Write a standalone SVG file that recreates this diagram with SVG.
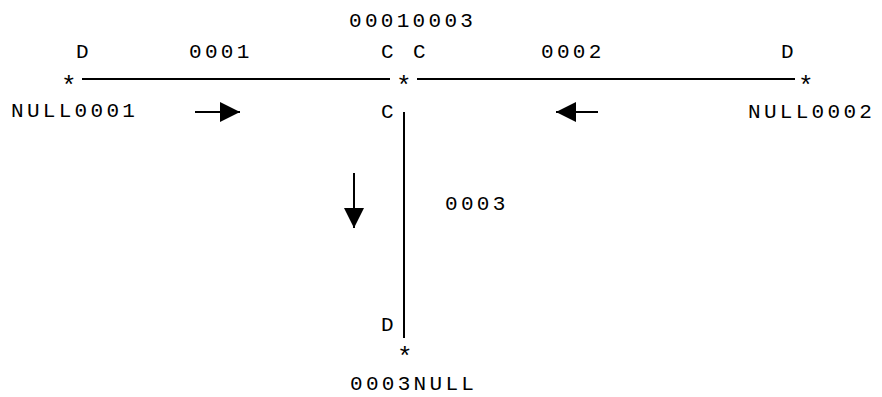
<svg xmlns="http://www.w3.org/2000/svg" width="882" height="397" viewBox="0 0 882 397">
<defs>
<style>
text{font-family:"Liberation Mono","DejaVu Sans Mono",monospace;font-size:21px;fill:#000;letter-spacing:3.3px}
text.st{font-size:26px;letter-spacing:0}
.ln{stroke:#000;stroke-width:2;fill:none}
.ar{stroke:#000;stroke-width:2;fill:none}
</style>
<marker id="ah" viewBox="0 0 20 20" refX="20" refY="10" markerWidth="20" markerHeight="20" markerUnits="userSpaceOnUse" orient="auto">
<path d="M0,0 L20,10 L0,20 Z" fill="#000"/>
</marker>
</defs>
<rect width="882" height="397" fill="#fff"/>
<g id="connectors">
<line id="edge-0001" class="ln" x1="82" y1="79" x2="390" y2="79"/>
<line id="edge-0002" class="ln" x1="417" y1="79" x2="795" y2="79"/>
<line id="edge-0003" class="ln" x1="404" y1="112" x2="404" y2="338"/>
<line class="ar" x1="195" y1="112" x2="240" y2="112" marker-end="url(#ah)"/>
<line class="ar" x1="598" y1="112" x2="556" y2="112" marker-end="url(#ah)"/>
<line class="ar" x1="354" y1="173" x2="354" y2="228" marker-end="url(#ah)"/>
</g>
<g id="node-null0001">
<text class="st" x="61" y="94">*</text>
<text x="11" y="117">NULL0001</text>
<text x="76" y="58">D</text>
</g>
<g id="node-00010003">
<text class="st" x="396" y="94">*</text>
<text x="349" y="27">00010003</text>
<text x="381" y="58">C</text>
<text x="413" y="58">C</text>
<text x="381" y="118">C</text>
</g>
<g id="node-null0002">
<text class="st" x="798" y="94">*</text>
<text x="748" y="118">NULL0002</text>
<text x="781" y="58">D</text>
</g>
<g id="node-0003null">
<text class="st" x="397" y="365">*</text>
<text x="350" y="390">0003NULL</text>
<text x="381" y="331">D</text>
</g>
<g id="labels">
<text x="189" y="58">0001</text>
<text x="541" y="58">0002</text>
<text x="445" y="210">0003</text>
</g>
</svg>
